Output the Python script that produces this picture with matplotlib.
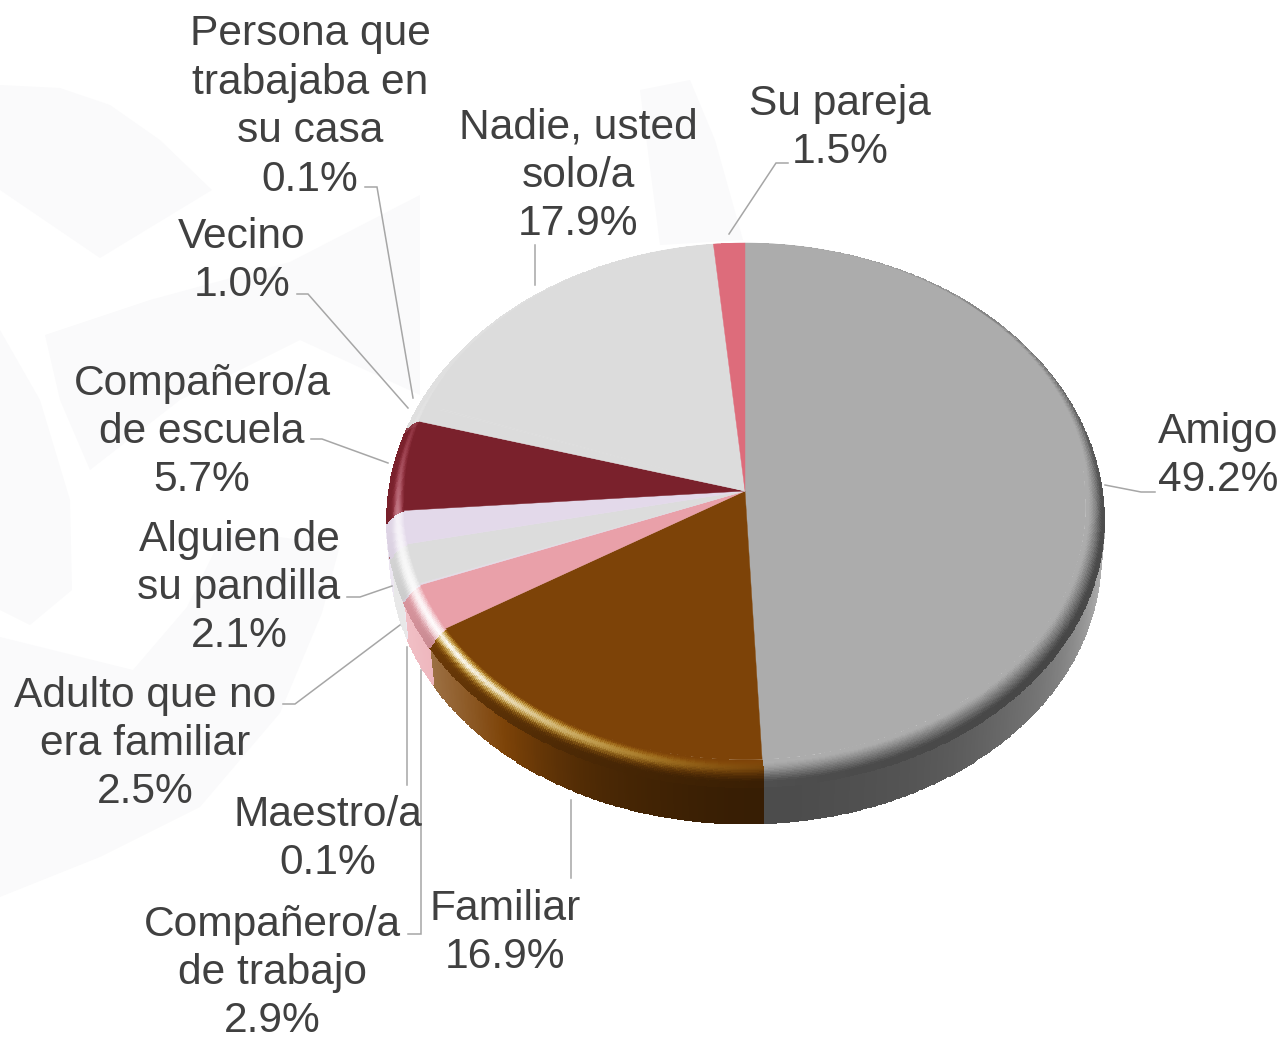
import numpy as np
import matplotlib
matplotlib.use("Agg")
import matplotlib.pyplot as plt

categories = ["Amigo", "Familiar", "Compañero/a\nde trabajo", "Maestro/a", "Adulto que no\nera familiar",
              "Alguien de\nsu pandilla", "Compañero/a\nde escuela", "Vecino", "Persona que\ntrabajaba en\nsu casa",
              "Nadie, usted\nsolo/a", "Su pareja"]
values = [49.2, 16.9, 2.9, 0.1, 2.5, 2.1, 5.7, 1.0, 0.1, 17.9, 1.5]
colors = ["#acacac", "#7d4308", "#e9a0a9", "#e4dce8", "#dcdcdc", "#e3d9ea", "#7a212c", "#dcdcdc", "#dcdcdc",
          "#dcdcdc", "#dd6c7b"]
label_x = [1218, 505, 272, 328, 145, 239, 202, 242, 310, 578, 840]
label_y = [456, 933, 973, 839, 744, 588, 432, 261, 107, 176, 128]
leaders = [
    [(1105, 485), (1141, 492), (1155, 492)],
    [(571, 800), (571, 878)],
    [(421, 670), (421, 934), (408, 934)],
    [(407, 647), (407, 785)],
    [(400, 625), (295, 704), (283, 704)],
    [(392, 586), (360, 597), (347, 597)],
    [(388, 463), (322, 439), (311, 439)],
    [(408, 408), (308, 294), (297, 294)],
    [(413, 398), (377, 187), (365, 187)],
    [(535, 285), (535, 245)],
    [(729, 234), (776, 163), (788, 163)],
]
watermark = [
    [(0, 85), (60, 88), (110, 105), (160, 140), (212, 190), (100, 258), (0, 190)],
    [(45, 335), (150, 300), (290, 262), (420, 195), (420, 395), (300, 340), (180, 400), (90, 470), (60, 400)],
    [(0, 330), (40, 400), (70, 500), (72, 590), (30, 625), (0, 610)],
    [(0, 637), (133, 670), (187, 607), (225, 530), (340, 545), (322, 613), (280, 713), (200, 807), (100, 857), (0, 897)],
    [(640, 90), (690, 80), (715, 140), (743, 240), (660, 245)],
]

W, H = 1283, 1041
cx, cy, A, B, k = 745, 491, 264.8, 358, 0.0677
DEPTH = 48
BEVEL = 11


def project(theta, r, z):
    u, v = np.sin(theta), np.cos(theta)
    w = 1 + k * r * v
    return cx + B * r * u / w, cy - A * r * v / w + z / w


def inner_radius(theta):
    return 1 - 0.05 * np.clip(1 - np.cos(theta), 0, 1)


def bevel_drop(theta):
    return BEVEL * np.clip(1 - np.cos(theta), 0, 1)


def smooth_curve(deg, knots_x, knots_y, width=10.0):
    grid = np.arange(-60.0, 420.0, 0.5)
    kernel = np.exp(-0.5 * (np.arange(-60, 60.5, 0.5) / width) ** 2)
    kernel /= kernel.sum()
    vals = np.interp(grid, knots_x, knots_y)
    vals = np.convolve(vals, kernel, mode="same")
    return np.interp(deg, grid, vals)


def wall_factor(deg):
    return smooth_curve(deg, [-60, 60, 100, 125, 150, 180, 205, 215, 225, 235, 250, 420],
                        [1.6, 1.0, 1.05, 0.7, 0.5, 0.42, 0.6, 0.85, 1.15, 1.35, 1.6, 1.6], 6.0)


def dark_factor(deg):
    return smooth_curve(deg, [-60, 0, 30, 60, 90, 120, 180, 215, 240, 270, 420],
                        [0, 0, 0.1, 0.35, 0.55, 0.6, 0.55, 0.35, 0.1, 0, 0])


def spec_factor(deg):
    s = np.where(deg < 235, 31.0, 30.0)
    return 0.95 * np.exp(-((deg - 235) / s) ** 2)


fig = plt.figure(figsize=(W / 100, H / 100), dpi=100)
ax = fig.add_axes([0, 0, 1, 1])
ax.set_xlim(0, W)
ax.set_ylim(H, 0)
ax.axis("off")

for poly in watermark:
    ax.fill(*zip(*poly), color="#fafafb", lw=0, zorder=0)

total = sum(values)
edges = np.cumsum([0] + values) / total * 2 * np.pi
rgb = [np.array(matplotlib.colors.to_rgb(c)) for c in colors]

# walls
for i in range(len(values)):
    n = max(2, int(np.degrees(edges[i + 1] - edges[i]) * 3))
    th = np.linspace(edges[i], edges[i + 1], n + 1)
    T, S = np.meshgrid(th, np.linspace(0, 1, 3), indexing="ij")
    Z = bevel_drop(T) + S * (DEPTH * np.clip(1 - np.cos(T), 0, 1) ** 0.5 - bevel_drop(T))
    X, Y = project(T, 1 - 0.01 * S, Z)
    mid = np.degrees((th[:-1] + th[1:]) / 2)
    f = wall_factor(mid)[:, None, None]
    c = np.where(f <= 1, rgb[i] * f, rgb[i] + (1 - rgb[i]) * (f - 1) * 0.6)
    C = np.repeat(c, 2, axis=1)
    ax.pcolormesh(X, Y, C, shading="flat", edgecolors="face", linewidth=0.4, zorder=2)

# flat top and bevel
for i in range(len(values)):
    n = max(2, int(np.degrees(edges[i + 1] - edges[i]) * 3))
    th = np.linspace(edges[i], edges[i + 1], n + 1)
    T, S = np.meshgrid(th, np.linspace(0, 1, 21), indexing="ij")
    R0 = inner_radius(T)
    X, Y = project(T, R0 + S * (1 - R0), S ** 2 * bevel_drop(T))
    mid_th = np.degrees((th[:-1] + th[1:]) / 2)[:, None]
    t = (np.arange(20) + 0.5)[None, :] / 20
    dark = dark_factor(mid_th) * np.clip((t - 0.15) / 0.7, 0, 1) ** 1.3
    prof = np.exp(-((t - 0.42) / 0.2) ** 2)
    spec = spec_factor(mid_th) * prof
    rim = 0.12 * t * (mid_th > 285)
    C = np.clip(rgb[i][None, None, :] * (1 - dark[..., None]), 0.001, 1)
    C = C ** (1 / (1 + 5 * spec))[..., None]
    C = C + (1 - C) * (spec ** 3 + rim)[..., None]
    ax.pcolormesh(X, Y, np.clip(C, 0, 1), shading="flat", edgecolors="face", linewidth=0.4, zorder=3)
    xf, yf = project(th, inner_radius(th), 0)
    ax.fill(np.r_[cx, xf], np.r_[cy, yf], color=colors[i], lw=0.3, zorder=4)

for pts in leaders:
    ax.plot(*zip(*pts), color="#a6a6a6", lw=1.1, zorder=5, solid_joinstyle="miter")

for cat, val, x, y in zip(categories, values, label_x, label_y):
    ax.text(x, y, f"{cat}\n{val:.1f}%", ha="center", va="center", multialignment="center",
            fontsize=30.6, family="Liberation Sans", color="#404040", linespacing=1.27, zorder=6)

fig.savefig("out.png", dpi=100)
